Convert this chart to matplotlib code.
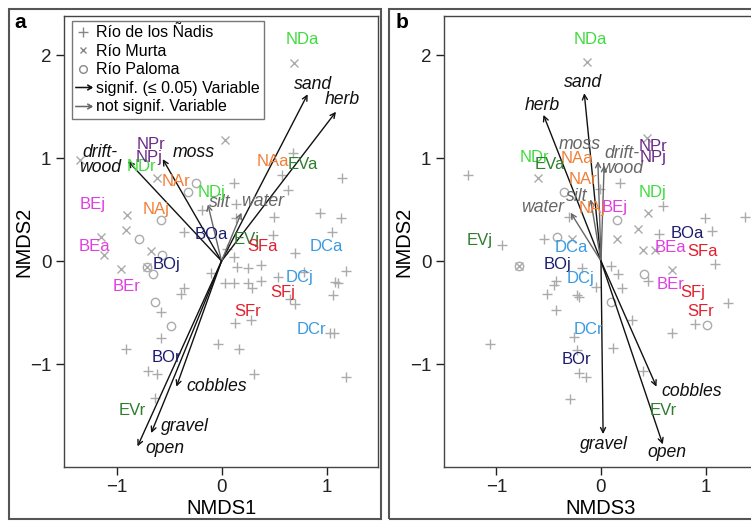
import matplotlib.pyplot as plt
from matplotlib.lines import Line2D
from matplotlib.patches import Rectangle
from matplotlib.path import Path

plt.rcParams['font.family'] = ['Liberation Sans', 'DejaVu Sans']

# sample points, panel a (NMDS1 / NMDS2)
nadis_a = [(0.68, 1.05), (1.15, 0.81), (0.58, 0.84), (0.63, 0.69), (0.12, 0.76), (-0.19, 0.50),
           (0.14, 0.55), (0.14, 0.42), (0.50, 0.43), (0.94, 0.47), (1.14, 0.42), (1.05, 0.28),
           (0.49, 0.25), (-0.36, 0.28), (0.70, 0.08), (0.05, 0.12), (0.12, 0.04), (0.15, -0.06),
           (0.25, -0.07), (0.38, -0.04), (-0.10, -0.12), (0.03, -0.21), (0.12, -0.21), (0.25, -0.21),
           (0.29, -0.26), (0.38, -0.19), (0.54, -0.15), (0.79, -0.11), (1.19, -0.10), (1.08, -0.20),
           (1.11, -0.21), (1.06, -0.33), (0.65, -0.37), (0.70, -0.42), (0.13, -0.60), (0.28, -0.57),
           (1.03, -0.70), (1.07, -0.70), (-0.36, -0.26), (-0.39, -0.32), (-0.58, -0.49), (-0.58, -0.75),
           (-0.91, -0.85), (-0.03, -0.81), (0.17, -0.85), (-0.70, -1.07), (-0.61, -1.10), (-0.63, -1.33),
           (0.31, -1.10), (1.19, -1.13)]
murta_a = [(0.69, 1.92), (0.03, 1.18), (-1.35, 0.98), (-0.61, 0.81), (-0.90, 0.45), (-0.91, 0.30),
           (-1.15, 0.23), (-0.67, 0.10), (-1.12, 0.06), (-0.96, -0.08), (-0.71, -0.06)]
paloma_a = [(-0.24, 0.76), (-0.32, 0.67), (-0.58, 0.40), (-0.79, 0.21), (-0.57, 0.06), (-0.71, -0.06),
            (-0.65, -0.13), (-0.63, -0.40), (-0.48, -0.63)]

# sample points, panel b (NMDS3 / NMDS2)
nadis_b = [(-1.27, 0.84), (0.18, 0.76), (-0.01, 0.70), (0.59, 0.53), (0.99, 0.42), (1.38, 0.43),
           (1.06, 0.29), (0.55, 0.26), (-0.95, 0.16), (-0.54, 0.21), (-0.31, 0.43), (1.09, -0.03),
           (0.10, -0.05), (-0.18, -0.07), (0.16, -0.13), (0.20, -0.26), (-0.05, -0.25), (-0.43, -0.19),
           (-0.45, -0.23), (-0.52, -0.32), (-0.23, -0.33), (-0.21, -0.35), (-0.43, -0.48), (0.30, -0.57),
           (0.45, -0.19), (1.21, -0.41), (0.90, -0.61), (0.68, -0.70), (-1.06, -0.81), (-0.26, -0.74),
           (-0.23, -0.86), (0.11, -0.84), (-0.21, -1.09), (-0.14, -1.13), (0.40, -1.07), (-0.30, -1.34)]
murta_b = [(-0.13, 1.93), (0.44, 1.20), (-0.60, 0.81), (0.45, 0.47), (0.35, 0.31), (0.15, 0.21),
           (-0.28, 0.21), (0.40, 0.11), (0.52, 0.11), (0.68, -0.09), (-0.78, -0.05)]
paloma_b = [(-0.35, 0.67), (0.15, 0.40), (-0.42, 0.23), (-0.78, -0.05), (0.10, -0.40), (0.41, -0.13),
            (1.01, -0.62)]

# site centroid labels
site_names = ['NDa', 'NDj', 'NDr', 'NPj', 'NPr', 'NAa', 'NAj', 'NAr', 'EVa', 'EVj', 'EVr',
              'BEa', 'BEj', 'BEr', 'BOa', 'BOj', 'BOr', 'SFa', 'SFj', 'SFr', 'DCa', 'DCj', 'DCr']
site_a = [(0.77, 2.15), (-0.10, 0.67), (-0.76, 0.92), (-0.69, 1.01), (-0.67, 1.13), (0.49, 0.97),
          (-0.62, 0.50), (-0.43, 0.77), (0.77, 0.94), (0.24, 0.21), (-0.85, -1.45),
          (-1.21, 0.14), (-1.23, 0.55), (-0.90, -0.25), (-0.10, 0.26), (-0.52, -0.03), (-0.52, -0.94),
          (0.39, 0.14), (0.58, -0.31), (0.25, -0.49), (1.00, 0.14), (0.74, -0.16), (0.86, -0.66)]
site_b = [(-0.10, 2.15), (0.49, 0.67), (-0.64, 1.01), (0.50, 1.01), (0.50, 1.11), (-0.23, 1.00),
          (-0.09, 0.51), (-0.17, 0.79), (-0.49, 0.94), (-1.16, 0.20), (0.59, -1.45),
          (0.66, 0.13), (0.13, 0.52), (0.66, -0.23), (0.82, 0.27), (-0.42, -0.03), (-0.23, -0.96),
          (0.97, 0.09), (0.88, -0.31), (0.95, -0.49), (-0.28, 0.13), (-0.20, -0.17), (-0.12, -0.66)]
site_colors = {'ND': '#3fdc3f', 'NP': '#6b2a86', 'NA': '#f07f38', 'EV': '#2f7d2f',
               'BE': '#e03fe0', 'BO': '#1c1c6e', 'SF': '#e0202e', 'DC': '#3a9ae0'}

# environmental vectors
var_names = ['sand', 'herb', 'drift-\nwood', 'moss', 'silt', 'water', 'cobbles', 'gravel', 'open']
var_tip_a = [(0.82, 1.62), (1.09, 1.45), (-0.89, 0.97), (-0.56, 0.99), (-0.13, 0.55), (0.19, 0.47),
             (-0.43, -1.22), (-0.67, -1.67), (-0.80, -1.80)]
var_lab_a = [(0.87, 1.71), (1.15, 1.57), (-1.16, 0.98), (-0.26, 1.05), (-0.02, 0.57), (0.39, 0.58),
             (-0.05, -1.22), (-0.35, -1.61), (-0.54, -1.82)]
var_sig_a = [1, 1, 1, 1, 0, 0, 1, 1, 1]
var_tip_b = [(-0.16, 1.63), (-0.55, 1.42), (0.03, 0.93), (-0.03, 0.97), (-0.10, 0.60), (-0.29, 0.47),
             (0.53, -1.22), (0.02, -1.68), (0.59, -1.78)]
var_lab_b = [(-0.17, 1.73), (-0.56, 1.51), (0.20, 0.97), (-0.20, 1.13), (-0.23, 0.63), (-0.56, 0.52),
             (0.87, -1.27), (0.03, -1.78), (0.63, -1.86)]
var_sig_b = [1, 1, 0, 0, 0, 0, 1, 1, 1]

point_gray = '#ababab'

# thin open arrow used as legend symbol
arrow_marker = Path([(-1, 0), (1, 0), (0.45, 0.32), (1, 0), (0.45, -0.32)],
                    [Path.MOVETO, Path.LINETO, Path.MOVETO, Path.LINETO, Path.LINETO])


def draw_panel(ax, nadis, murta, paloma, sites, tips, labs, sig, xlabel):
    for pts, mk, ms in [(nadis, '+', 7), (murta, 'x', 5.5), (paloma, 'o', 6)]:
        xs = [p[0] for p in pts]
        ys = [p[1] for p in pts]
        ax.plot(xs, ys, linestyle='none', marker=mk, ms=ms, mew=1.0,
                mec=point_gray, mfc='none', zorder=1)

    for tip, lab, name, s in zip(tips, labs, var_names, sig):
        col = '#111111' if s else '#666666'
        ax.annotate('', xy=tip, xytext=(0, 0),
                    arrowprops=dict(arrowstyle='->', color=col, lw=1.0, shrinkA=0, shrinkB=0,
                                    mutation_scale=9), zorder=2)
        ax.text(lab[0], lab[1], name, color=col, fontsize=12.7, style='italic',
                ha='center', va='center', linespacing=0.85, zorder=3)

    for name, pos in zip(site_names, sites):
        ax.text(pos[0], pos[1], name, color=site_colors[name[:2]], fontsize=12,
                ha='center', va='center', zorder=4)

    ax.set_xlim(-1.5, 1.5)
    ax.set_ylim(-2.0, 2.38)
    ax.set_xticks([-1, 0, 1])
    ax.set_yticks([-1, 0, 1, 2])
    ax.tick_params(direction='out', length=6, width=1, labelsize=13.5, pad=3, colors='#222222')
    for sp in ax.spines.values():
        sp.set_color('#444444')
        sp.set_linewidth(1.0)
    ax.set_xlabel(xlabel, fontsize=14.5)
    ax.set_ylabel('NMDS2', fontsize=14.5)
    ax.xaxis.set_label_coords(0.5, -0.072)
    ax.yaxis.set_label_coords(-0.097, 0.5)


fig = plt.figure(figsize=(7.51, 5.21), dpi=100)
W, H = 751, 521

ax_a = fig.add_axes([64 / W, (H - 467) / H, 314 / W, 451 / H])
ax_b = fig.add_axes([444 / W, (H - 467) / H, 314 / W, 451 / H])

draw_panel(ax_a, nadis_a, murta_a, paloma_a, site_a, var_tip_a, var_lab_a, var_sig_a, 'NMDS1')
draw_panel(ax_b, nadis_b, murta_b, paloma_b, site_b, var_tip_b, var_lab_b, var_sig_b, 'NMDS3')
ax_a.set_xlim(-1.5, 1.49)

# legend (panel a only)
handles = [
    Line2D([], [], linestyle='none', marker='+', ms=7, mew=1.0, mec='#888888'),
    Line2D([], [], linestyle='none', marker='x', ms=5, mew=1.0, mec='#888888'),
    Line2D([], [], linestyle='none', marker='o', ms=5.5, mew=1.0, mec='#888888', mfc='none'),
    Line2D([], [], linestyle='none', marker=arrow_marker, ms=12, mew=1.1,
           mec='#111111', mfc='none'),
    Line2D([], [], linestyle='none', marker=arrow_marker, ms=12, mew=1.1,
           mec='#666666', mfc='none'),
]
labels = ['Río de los Ñadis', 'Río Murta', 'Río Paloma',
          'signif. (≤ 0.05) Variable', 'not signif. Variable']
leg = ax_a.legend(handles, labels, loc='upper left', bbox_to_anchor=(0.025, 0.99),
                  borderaxespad=0, fontsize=11.5, frameon=True, fancybox=False,
                  handlelength=0.8, handletextpad=0.4, labelspacing=0.22,
                  borderpad=0.3, framealpha=1)
leg.get_frame().set_edgecolor('#777777')
leg.get_frame().set_linewidth(1.0)
leg.set_zorder(5)

# outer panel frames and panel letters
fig.add_artist(Rectangle((9 / W, (H - 519) / H), 372 / W, 510 / H, transform=fig.transFigure,
                         fill=False, ec='#555555', lw=1.5))
fig.add_artist(Rectangle((389 / W, (H - 519) / H), 372 / W, 510 / H, transform=fig.transFigure,
                         fill=False, ec='#555555', lw=1.5))
fig.text(20 / W, 1 - 22 / H, 'a', fontsize=15, fontweight='bold', ha='center', va='center')
fig.text(402 / W, 1 - 22 / H, 'b', fontsize=15, fontweight='bold', ha='center', va='center')

fig.savefig('out.png', dpi=100)
